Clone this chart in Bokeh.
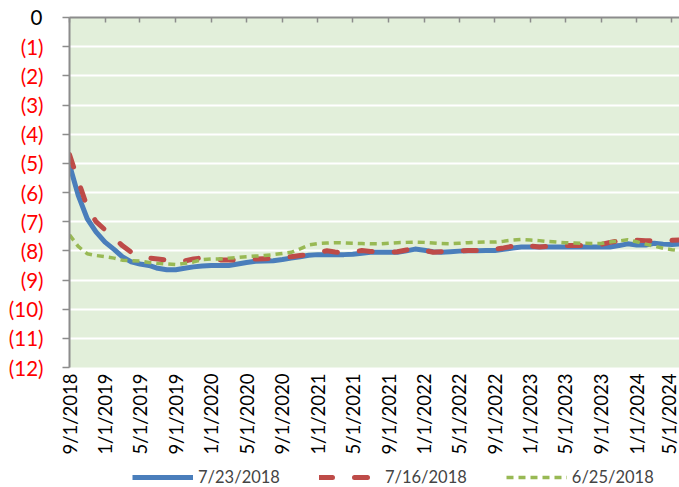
import math
import pandas as pd
from bokeh.plotting import figure
from bokeh.layouts import column
from bokeh.models import (FixedTicker, DatetimeAxis, LinearAxis, Range1d, Legend,
                          LegendItem, ColumnDataSource)
from bokeh.embed import file_html
from bokeh.resources import INLINE

# ---------------- data ----------------
dates = pd.date_range("2018-09-01", periods=70, freq="MS")

series_jul23 = [-5.05, -6.1, -6.9, -7.35, -7.7, -7.95, -8.2, -8.38, -8.45, -8.5,
                -8.6, -8.65, -8.65, -8.6, -8.55, -8.52, -8.5, -8.5, -8.5, -8.45,
                -8.4, -8.36, -8.35, -8.34, -8.3, -8.25, -8.2, -8.15, -8.13, -8.13,
                -8.13, -8.13, -8.12, -8.08, -8.05, -8.05, -8.05, -8.05, -8.0, -7.94,
                -7.98, -8.03, -8.05, -8.03, -8.01, -8.0, -8.0, -7.99, -7.99, -7.95,
                -7.9, -7.87, -7.87, -7.87, -7.87, -7.87, -7.87, -7.87, -7.87, -7.87,
                -7.87, -7.87, -7.82, -7.76, -7.8, -7.8, -7.74, -7.77, -7.78, -7.76]

series_jul16 = [-4.7, -5.6, -6.5, -7.0, -7.28, -7.55, -7.82, -8.05, -8.2, -8.25,
                -8.28, -8.32, -8.38, -8.35, -8.28, -8.24, -8.28, -8.31, -8.31, -8.31,
                -8.3, -8.28, -8.27, -8.26, -8.24, -8.2, -8.16, -8.13, -8.05, -8.0,
                -8.04, -8.07, -8.03, -7.99, -8.02, -8.05, -8.05, -8.03, -7.97, -7.91,
                -7.98, -8.05, -8.03, -8.01, -8.0, -7.99, -7.99, -7.99, -7.95, -7.9,
                -7.84, -7.78, -7.83, -7.87, -7.85, -7.82, -7.82, -7.82, -7.82, -7.82,
                -7.78, -7.71, -7.66, -7.62, -7.64, -7.65, -7.65, -7.65, -7.64, -7.63]

series_jun25 = [-7.45, -7.85, -8.1, -8.16, -8.2, -8.25, -8.32, -8.34, -8.35, -8.4,
                -8.43, -8.45, -8.47, -8.43, -8.38, -8.3, -8.28, -8.28, -8.25, -8.23,
                -8.2, -8.18, -8.16, -8.13, -8.09, -8.05, -7.93, -7.8, -7.75, -7.73,
                -7.72, -7.73, -7.74, -7.75, -7.76, -7.76, -7.74, -7.72, -7.71, -7.7,
                -7.71, -7.73, -7.75, -7.76, -7.74, -7.72, -7.71, -7.7, -7.7, -7.67,
                -7.63, -7.61, -7.63, -7.65, -7.68, -7.7, -7.72, -7.73, -7.74, -7.75,
                -7.75, -7.7, -7.66, -7.62, -7.69, -7.77, -7.84, -7.91, -7.96, -8.0]

series_names = ["7/23/2018", "7/16/2018", "6/25/2018"]
series_colors = ["#4A7EBB", "#BE4B48", "#98B954"]

x_tick_labels = ["9/1/2018", "1/1/2019", "5/1/2019", "9/1/2019", "1/1/2020",
                 "5/1/2020", "9/1/2020", "1/1/2021", "5/1/2021", "9/1/2021",
                 "1/1/2022", "5/1/2022", "9/1/2022", "1/1/2023", "5/1/2023",
                 "9/1/2023", "1/1/2024", "5/1/2024"]

y_ticks = [0, -1, -2, -3, -4, -5, -6, -7, -8, -9, -10, -11, -12]
y_tick_labels = ["0", "(1)", "(2)", "(3)", "(4)", "(5)", "(6)", "(7)", "(8)",
                 "(9)", "(10)", "(11)", "(12)"]

# ---------------- helpers ----------------
def to_ms(d):
    return int(pd.Timestamp(d).value // 10**6)

x_tick_ms = [to_ms(pd.to_datetime(s, format="%m/%d/%Y")) for s in x_tick_labels]
x_overrides = {ms: lab for ms, lab in zip(x_tick_ms, x_tick_labels)}
# inner axis: line, ticks and the black "0"; outer axis: red negative labels
y_zero_overrides = {t: (lab if t == 0 else "") for t, lab in zip(y_ticks, y_tick_labels)}
y_red_overrides = {t: ("" if t == 0 else lab) for t, lab in zip(y_ticks, y_tick_labels)}

x_start = to_ms("2018-09-01")
x_end = to_ms("2024-05-27")

FONT = "Lato"
AXIS_GRAY = "#8C8C8C"
Y_FONT_SIZE = "20.5px"

p = figure(x_axis_type="datetime", frame_width=610, frame_height=350,
           min_border_left=69, min_border_right=0, min_border_top=17,
           min_border_bottom=100, output_backend="svg", toolbar_location=None,
           x_range=Range1d(x_start, x_end), y_range=Range1d(-12, 0),
           background_fill_color="#E2EFDA", border_fill_color="white",
           outline_line_color=None)

src = ColumnDataSource(dict(x=list(dates), a=series_jul23, b=series_jul16, c=series_jun25))

STYLES = [dict(line_width=5, line_join="round"),
          dict(line_width=5, line_dash="13 22", line_cap="round", line_join="round"),
          dict(line_width=3.5, line_dash="7 5", line_join="round")]

p.line("x", "a", source=src, line_color=series_colors[0], **STYLES[0])
p.line("x", "b", source=src, line_color=series_colors[1], **STYLES[1])
p.line("x", "c", source=src, line_color=series_colors[2], **STYLES[2])

# grid
p.xgrid.visible = False
p.ygrid.ticker = FixedTicker(ticks=y_ticks)
p.ygrid.grid_line_color = "white"
p.ygrid.grid_line_width = 2

# inner y axis: gray line + ticks + black "0"
ya = p.yaxis[0]
ya.ticker = FixedTicker(ticks=y_ticks)
ya.major_label_overrides = y_zero_overrides
ya.major_label_text_color = "black"
ya.major_label_text_font = FONT
ya.major_label_text_font_size = Y_FONT_SIZE
ya.axis_line_color = AXIS_GRAY
ya.axis_line_width = 2
ya.major_tick_line_color = AXIS_GRAY
ya.major_tick_line_width = 1.5
ya.major_tick_out = 7
ya.major_tick_in = 0
ya.minor_tick_line_color = None
ya.major_label_standoff = 20

# outer y axis: red parenthesised labels, pulled back next to the ticks
red_axis = LinearAxis(ticker=FixedTicker(ticks=y_ticks),
                      major_label_overrides=y_red_overrides)
red_axis.major_label_text_color = "#FF0000"
red_axis.major_label_text_font = FONT
red_axis.major_label_text_font_size = Y_FONT_SIZE
red_axis.axis_line_color = None
red_axis.major_tick_line_color = None
red_axis.minor_tick_line_color = None
red_axis.major_tick_out = 0
red_axis.major_tick_in = 0
red_axis.major_label_standoff = -16
p.add_layout(red_axis, "left")

# bottom x axis (labels only)
xa = p.xaxis[0]
xa.ticker = FixedTicker(ticks=x_tick_ms)
xa.major_label_overrides = x_overrides
xa.major_label_orientation = math.pi / 2
xa.major_label_text_font = FONT
xa.major_label_text_font_size = "18.5px"
xa.major_label_text_color = "black"
xa.axis_line_color = None
xa.major_tick_line_color = None
xa.minor_tick_line_color = None
xa.major_tick_out = 0
xa.major_tick_in = 0
xa.major_label_standoff = 6

# top x axis (line + ticks, crossing at 0)
top = DatetimeAxis(ticker=FixedTicker(ticks=x_tick_ms))
top.major_label_text_font_size = "0px"
top.major_label_standoff = 0
top.axis_line_color = AXIS_GRAY
top.axis_line_width = 2
top.major_tick_line_color = AXIS_GRAY
top.major_tick_line_width = 1.5
top.major_tick_in = 5
top.major_tick_out = 0
top.minor_tick_line_color = None
p.add_layout(top, "above")

# ---------------- legend strip ----------------
lg = figure(width=679, height=20, min_border=0, output_backend="svg",
            toolbar_location=None, x_range=Range1d(0, 1), y_range=Range1d(0, 1),
            x_axis_location=None, y_axis_location=None,
            outline_line_color=None, background_fill_color="white",
            border_fill_color="white")
lg.xgrid.visible = False
lg.ygrid.visible = False
lsrc = ColumnDataSource(dict(x=[to_ms(d) for d in dates], a=series_jul23,
                             b=series_jul16, c=series_jun25))
items = []
for name, col, color, style in zip(series_names, ["a", "b", "c"], series_colors, STYLES):
    r = lg.line("x", col, source=lsrc, line_color=color, **style)
    items.append(LegendItem(label=name, renderers=[r]))

legend = Legend(items=items, orientation="horizontal", location=(63, 0),
                glyph_width=61, glyph_height=20, label_standoff=5, spacing=39,
                padding=0, margin=0, background_fill_alpha=0,
                border_line_color=None, label_text_font=FONT,
                label_text_font_size="16.5px", label_height=20)
lg.add_layout(legend, "center")

layout = column(p, lg, spacing=0)
open("out.html", "w").write(file_html(layout, INLINE))
